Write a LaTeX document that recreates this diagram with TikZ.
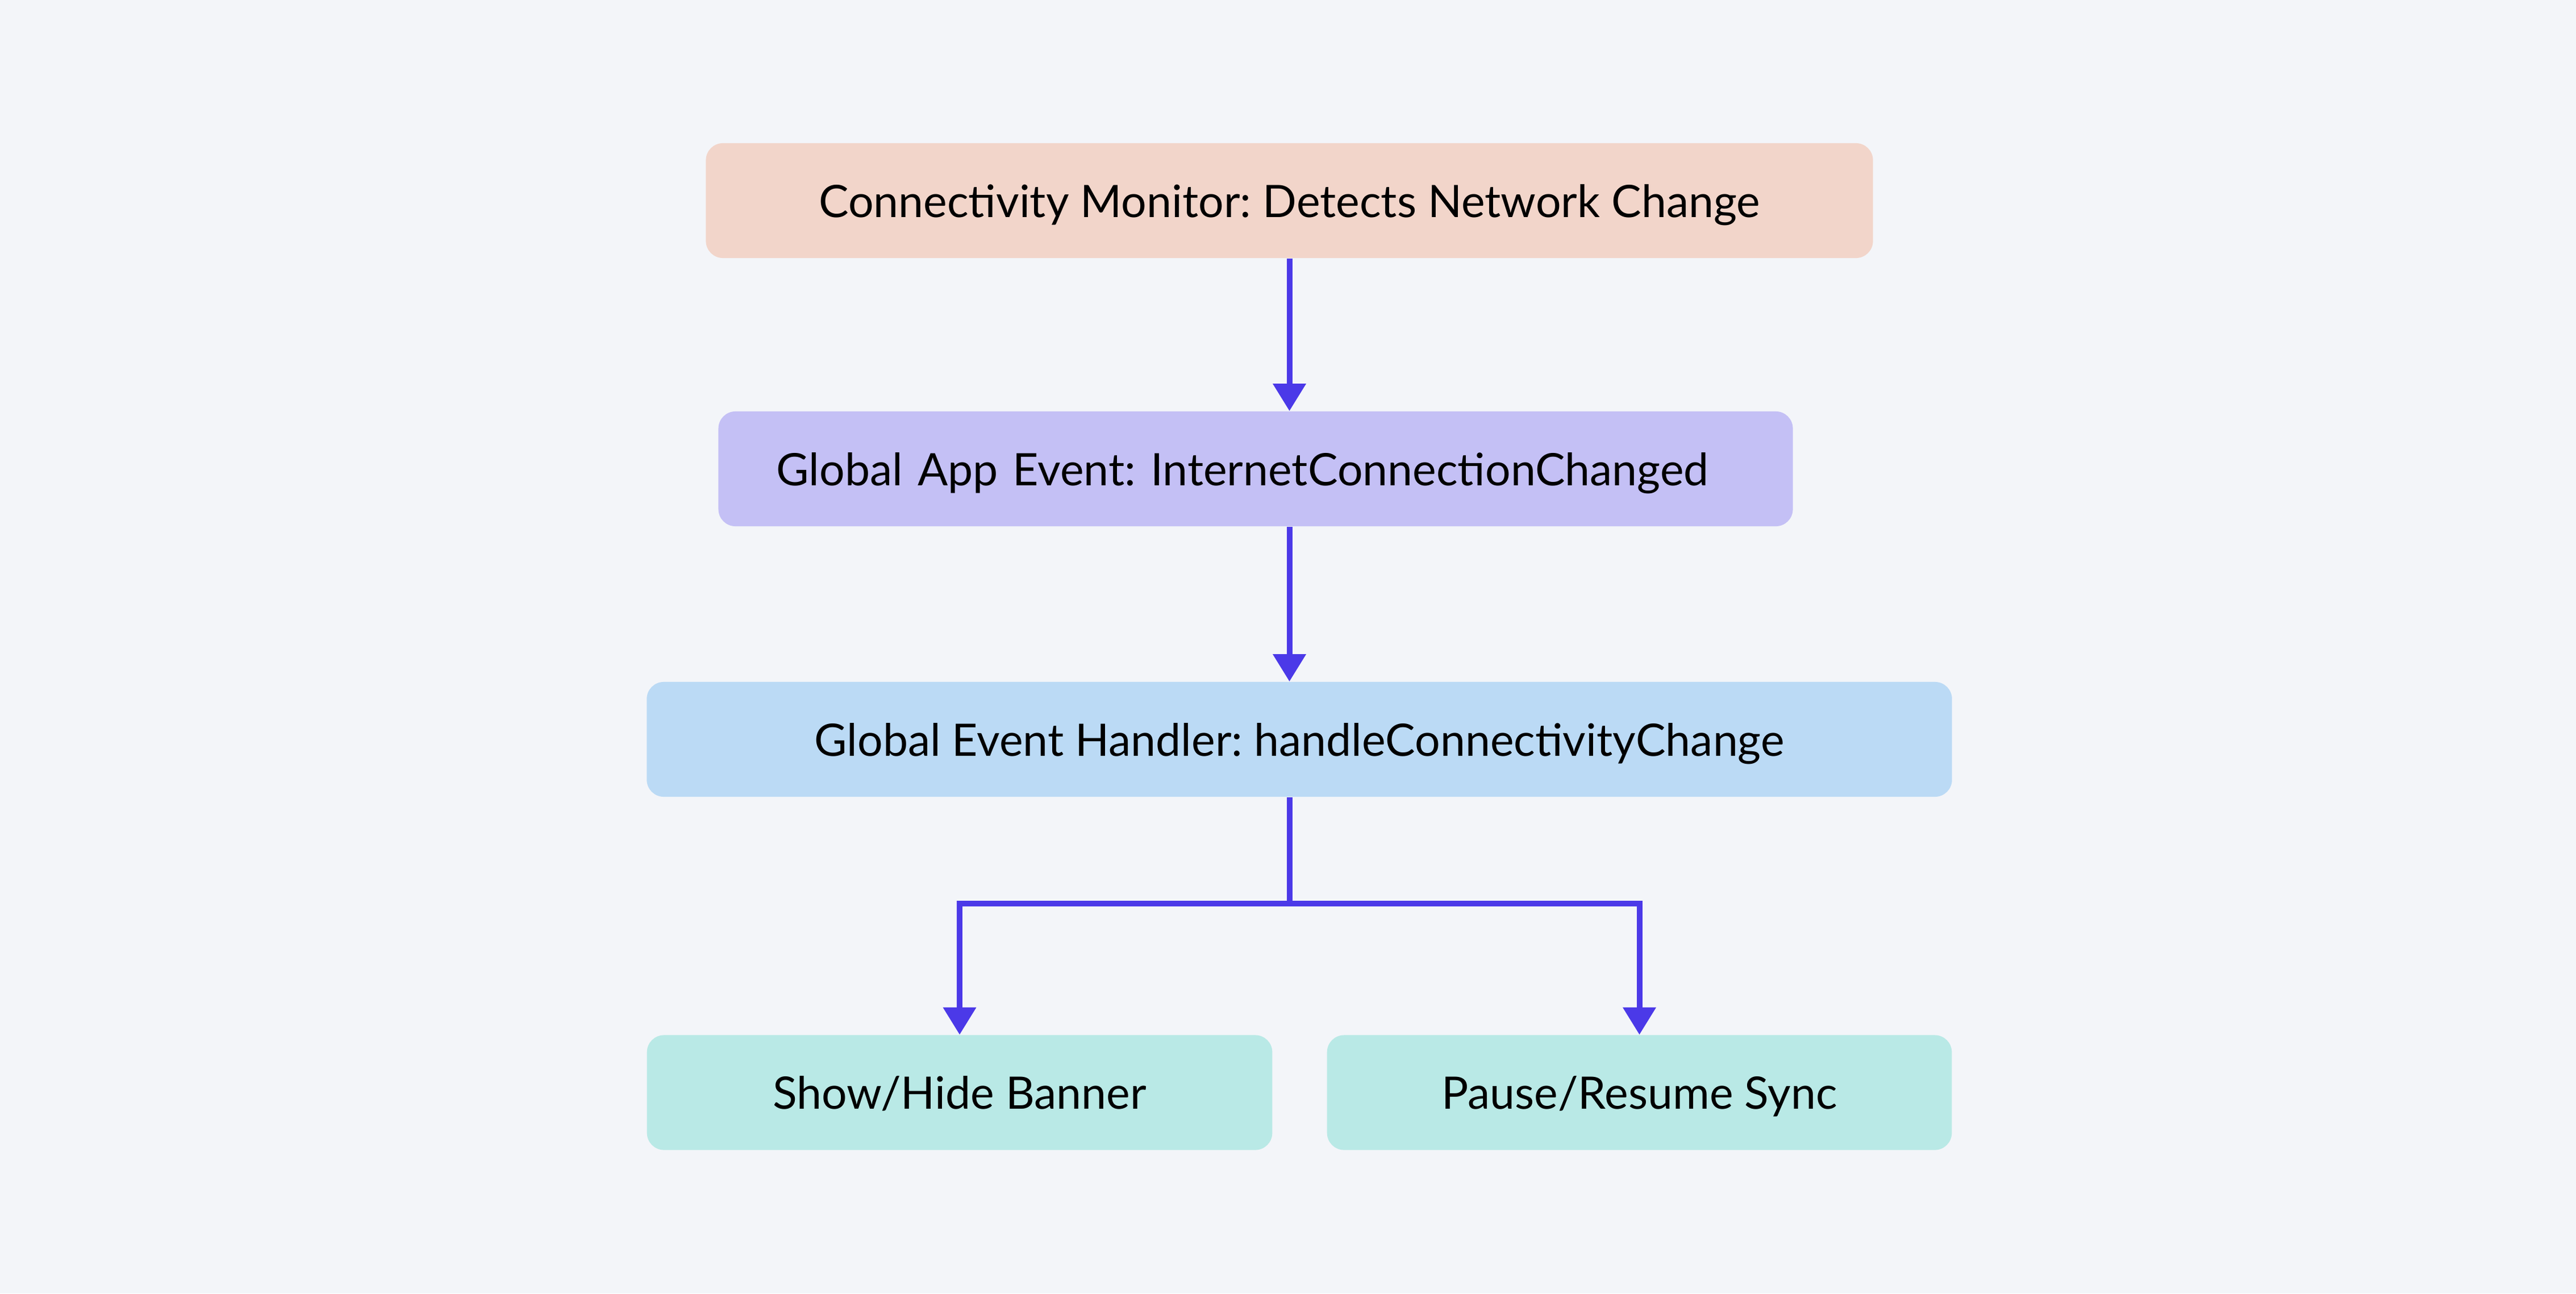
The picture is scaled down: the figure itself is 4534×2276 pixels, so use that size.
\documentclass[tikz,border=0pt]{standalone}
\usepackage{fontspec}
\setmainfont{Lato}
\frenchspacing
\usetikzlibrary{arrows.meta}
\definecolor{bgc}{HTML}{F3F5F9}
\definecolor{peach}{HTML}{F2D5CA}
\definecolor{lav}{HTML}{C4C0F5}
\definecolor{lblue}{HTML}{BBDAF5}
\definecolor{teal}{HTML}{B9E9E6}
\definecolor{arrowc}{HTML}{4B39E8}
\tikzset{
  box/.style={rectangle, rounded corners=0.3cm, draw=none, inner sep=0pt,
    minimum height=2.02cm, text height=0.58cm, text depth=0pt,
    font=\fontsize{22.4}{26}\selectfont\frenchspacing, text=black},
  conn/.style={draw=arrowc, line width=0.1cm},
  tipped/.style={conn, -{Triangle[length=0.48cm,width=0.56cm]}}
}
\begin{document}
\begin{tikzpicture}[x=0.01cm,y=-0.01cm]
\fill[bgc] (0,0) rectangle (4534,2276);
\useasboundingbox (0,0) rectangle (4534,2276);
\node[box, fill=peach, minimum width=20.53cm] (b1) at (2269.5,353) {Connectivity Monitor: Detects Network Change};
\node[box, fill=lav, minimum width=18.90cm, text width=18.90cm, align=center] (b2) at (2210,825) {\hspace*{-0.46cm}Global App Event: InternetConnectionChanged};
\node[box, fill=lblue, minimum width=22.96cm] (b3) at (2287,1301) {Global Event Handler: handleConnectivityChange};
\node[box, fill=teal, minimum width=11.00cm] (b4) at (1689,1922.5) {Show/Hide Banner};
\node[box, fill=teal, minimum width=10.99cm] (b5) at (2885.5,1922.5) {Pause/Resume Sync};
\coordinate (j) at (2269.5,1590);
\draw[tipped] (b1.south) -- (b1.south |- b2.north);
\draw[tipped] (b2.south -| b1.south) -- (b1.south |- b3.north);
\draw[conn] (b3.south -| j) -- (j);
\draw[tipped] (j) -| (b4.north);
\draw[tipped] (j) -| (b5.north);
\end{tikzpicture}
\end{document}
